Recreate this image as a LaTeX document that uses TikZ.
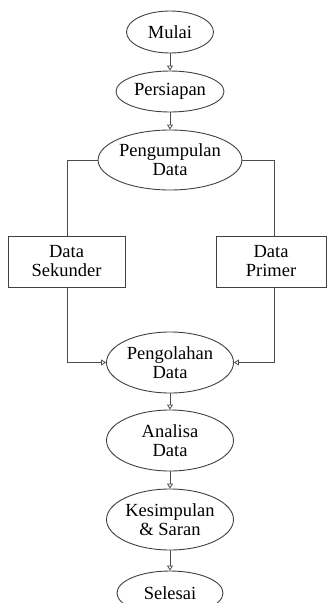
\documentclass[tikz,border=0pt]{standalone}
\usepackage{fontspec}
\setmainfont{Liberation Serif}
\usetikzlibrary{shapes.geometric,arrows.meta}
\begin{document}
\begin{tikzpicture}[x=1pt,y=-1pt,
  every node/.style={font=\fontsize{18.5}{19}\selectfont, align=center, inner sep=0pt},
  oval/.style={draw=black!75, line width=0.9pt, ellipse, minimum width=#1},
  box/.style={draw=black!75, line width=0.9pt, rectangle},
  conn/.style={draw=black!70, line width=0.8pt, -{Triangle[open,width=6pt,length=5pt]}},
  plain/.style={draw=black!70, line width=0.8pt}]
\useasboundingbox (0,0) rectangle (327,603);
\node[oval=87pt, minimum height=42pt] (mulai) at (170,32) {Mulai};
\node[oval=108pt, minimum height=41pt] (persiapan) at (170,91.5) {Persiapan};
\node[oval=127pt, minimum height=60pt] (kumpul) at (170,160) {Pengumpulan\\Data};
\node[box, minimum width=117pt, minimum height=51pt] (sekunder) at (66.5,261.5) {Data\\Sekunder};
\node[box, minimum width=110pt, minimum height=51pt] (primer) at (271,261.5) {Data\\Primer};
\node[oval=127pt, minimum height=61pt] (olah) at (170,362.5) {Pengolahan\\Data};
\node[oval=127pt, minimum height=61pt] (analisa) at (170,440.5) {Analisa\\Data};
\node[oval=127pt, minimum height=61pt] (simpul) at (170,519.5) {Kesimpulan\\\& Saran};
\node[oval=106pt, minimum height=44pt] (selesai) at (170,593) {Selesai};
\draw[conn] (mulai) -- (persiapan);
\draw[conn] (persiapan) -- (kumpul);
\draw[plain] (kumpul.west) -| (sekunder.north -| 67,0);
\draw[plain] (kumpul.east) -| (primer.north -| 274,0);
\draw[conn] (sekunder.south -| 67,0) |- (olah.west);
\draw[conn] (primer.south -| 274,0) |- (olah.east);
\draw[conn] (olah) -- (analisa);
\draw[conn] (analisa) -- (simpul);
\draw[conn] (simpul) -- (selesai);
\end{tikzpicture}
\end{document}
